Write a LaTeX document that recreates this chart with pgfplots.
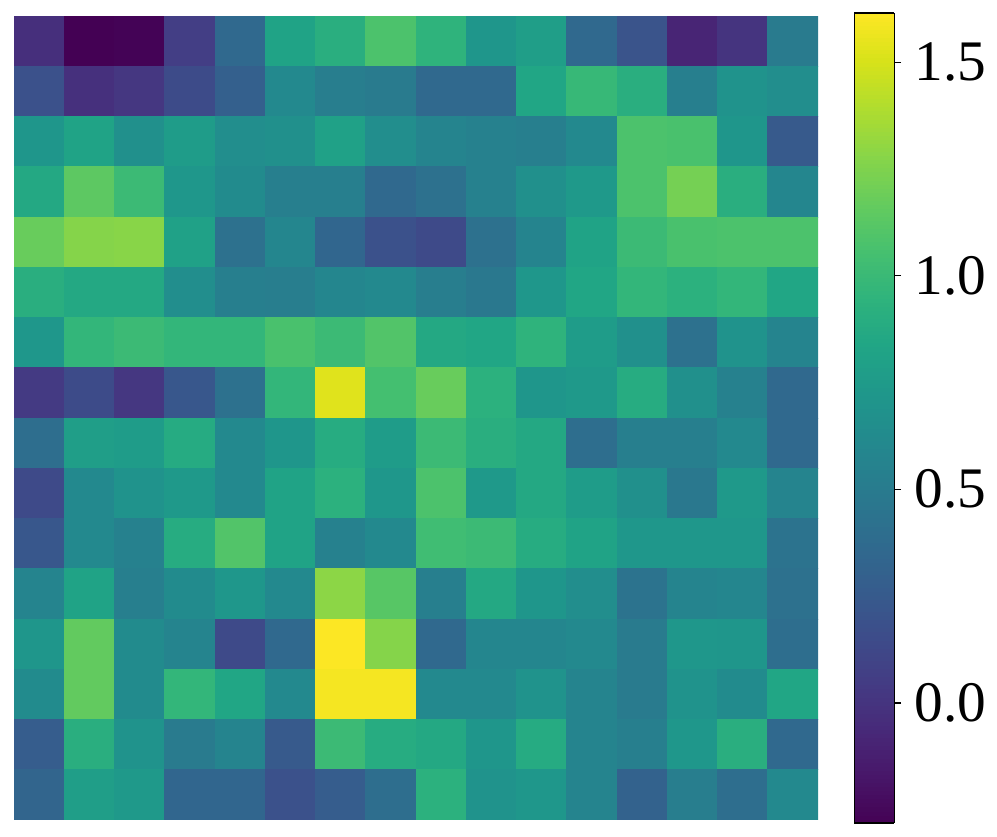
\documentclass[border=0pt]{standalone}
\usepackage{fontspec}
\setmainfont{Liberation Serif}
\usepackage{pgfplots}
\pgfplotsset{compat=1.18}

\begin{document}
\begin{tikzpicture}
\begin{axis}[
  name=main,
  scale only axis, width=603pt, height=603pt,
  xmin=-0.5, xmax=15.5, ymin=-0.5, ymax=15.5,
  y dir=reverse,
  hide axis,
  colormap/viridis,
  point meta min=-0.281, point meta max=1.615,
  colorbar sampled,
  colorbar style={
    samples=200,
    at={(parent axis.north east)}, anchor=north west,
    xshift=18.75pt, yshift=2.25pt,
    scale only axis, width=30pt, height=607.5pt,
    ytick={0,0.5,1,1.5}, ytick pos=right,
    yticklabel style={font=\fontsize{43}{43}\selectfont, inner sep=0pt, xshift=10pt,
      /pgf/number format/.cd, fixed, fixed zerofill, precision=1, assume math mode=true},
    tick align=outside, major tick length=5pt,
    tick style={black, line width=0.9pt},
    axis line style={black, line width=1pt},
  },
]
\addplot[matrix plot*, mesh/cols=16, mesh/ordering=x varies, point meta=explicit] coordinates {
(0,0)[-0.03] (1,0)[-0.28] (2,0)[-0.27] (3,0)[0.06] (4,0)[0.36] (5,0)[0.82] (6,0)[0.91] (7,0)[1.08] (8,0)[0.95] (9,0)[0.71] (10,0)[0.78] (11,0)[0.36] (12,0)[0.21] (13,0)[-0.09] (14,0)[0.00] (15,0)[0.50]

(0,1)[0.19] (1,1)[-0.02] (2,1)[0.02] (3,1)[0.15] (4,1)[0.29] (5,1)[0.61] (6,1)[0.52] (7,1)[0.50] (8,1)[0.36] (9,1)[0.36] (10,1)[0.84] (11,1)[0.99] (12,1)[0.91] (13,1)[0.53] (14,1)[0.69] (15,1)[0.65]

(0,2)[0.71] (1,2)[0.82] (2,2)[0.67] (3,2)[0.76] (4,2)[0.65] (5,2)[0.67] (6,2)[0.80] (7,2)[0.65] (8,2)[0.57] (9,2)[0.55] (10,2)[0.53] (11,2)[0.61] (12,2)[1.08] (13,2)[1.07] (14,2)[0.71] (15,2)[0.25]

(0,3)[0.86] (1,3)[1.14] (2,3)[1.01] (3,3)[0.72] (4,3)[0.63] (5,3)[0.53] (6,3)[0.53] (7,3)[0.36] (8,3)[0.42] (9,3)[0.55] (10,3)[0.67] (11,3)[0.74] (12,3)[1.08] (13,3)[1.22] (14,3)[0.91] (15,3)[0.59]

(0,4)[1.18] (1,4)[1.27] (2,4)[1.28] (3,4)[0.80] (4,4)[0.42] (5,4)[0.59] (6,4)[0.34] (7,4)[0.19] (8,4)[0.14] (9,4)[0.42] (10,4)[0.57] (11,4)[0.82] (12,4)[1.01] (13,4)[1.07] (14,4)[1.08] (15,4)[1.08]

(0,5)[0.91] (1,5)[0.86] (2,5)[0.86] (3,5)[0.65] (4,5)[0.53] (5,5)[0.52] (6,5)[0.59] (7,5)[0.61] (8,5)[0.52] (9,5)[0.48] (10,5)[0.72] (11,5)[0.84] (12,5)[0.97] (13,5)[0.93] (14,5)[0.97] (15,5)[0.84]

(0,6)[0.72] (1,6)[0.97] (2,6)[1.01] (3,6)[0.97] (4,6)[0.97] (5,6)[1.07] (6,6)[1.01] (7,6)[1.10] (8,6)[0.86] (9,6)[0.84] (10,6)[0.95] (11,6)[0.76] (12,6)[0.67] (13,6)[0.42] (14,6)[0.69] (15,6)[0.57]

(0,7)[0.04] (1,7)[0.15] (2,7)[0.02] (3,7)[0.23] (4,7)[0.42] (5,7)[0.97] (6,7)[1.53] (7,7)[1.05] (8,7)[1.18] (9,7)[0.93] (10,7)[0.71] (11,7)[0.74] (12,7)[0.89] (13,7)[0.67] (14,7)[0.55] (15,7)[0.36]

(0,8)[0.40] (1,8)[0.78] (2,8)[0.76] (3,8)[0.88] (4,8)[0.61] (5,8)[0.71] (6,8)[0.89] (7,8)[0.76] (8,8)[1.01] (9,8)[0.91] (10,8)[0.86] (11,8)[0.40] (12,8)[0.53] (13,8)[0.53] (14,8)[0.61] (15,8)[0.36]

(0,9)[0.14] (1,9)[0.61] (2,9)[0.69] (3,9)[0.74] (4,9)[0.61] (5,9)[0.82] (6,9)[0.93] (7,9)[0.72] (8,9)[1.08] (9,9)[0.74] (10,9)[0.86] (11,9)[0.76] (12,9)[0.67] (13,9)[0.48] (14,9)[0.74] (15,9)[0.57]

(0,10)[0.23] (1,10)[0.61] (2,10)[0.55] (3,10)[0.89] (4,10)[1.10] (5,10)[0.82] (6,10)[0.55] (7,10)[0.61] (8,10)[1.03] (9,10)[1.01] (10,10)[0.89] (11,10)[0.82] (12,10)[0.72] (13,10)[0.72] (14,10)[0.72] (15,10)[0.44]

(0,11)[0.57] (1,11)[0.82] (2,11)[0.53] (3,11)[0.63] (4,11)[0.72] (5,11)[0.61] (6,11)[1.29] (7,11)[1.12] (8,11)[0.53] (9,11)[0.86] (10,11)[0.71] (11,11)[0.65] (12,11)[0.44] (13,11)[0.57] (14,11)[0.59] (15,11)[0.42]

(0,12)[0.71] (1,12)[1.16] (2,12)[0.63] (3,12)[0.57] (4,12)[0.14] (5,12)[0.36] (6,12)[1.61] (7,12)[1.27] (8,12)[0.36] (9,12)[0.59] (10,12)[0.59] (11,12)[0.61] (12,12)[0.50] (13,12)[0.72] (14,12)[0.71] (15,12)[0.40]

(0,13)[0.63] (1,13)[1.16] (2,13)[0.63] (3,13)[0.97] (4,13)[0.84] (5,13)[0.61] (6,13)[1.59] (7,13)[1.59] (8,13)[0.61] (9,13)[0.61] (10,13)[0.69] (11,13)[0.57] (12,13)[0.50] (13,13)[0.69] (14,13)[0.63] (15,13)[0.84]

(0,14)[0.27] (1,14)[0.91] (2,14)[0.69] (3,14)[0.50] (4,14)[0.57] (5,14)[0.25] (6,14)[1.01] (7,14)[0.89] (8,14)[0.86] (9,14)[0.71] (10,14)[0.88] (11,14)[0.57] (12,14)[0.53] (13,14)[0.72] (14,14)[0.91] (15,14)[0.36]

(0,15)[0.33] (1,15)[0.78] (2,15)[0.74] (3,15)[0.34] (4,15)[0.34] (5,15)[0.19] (6,15)[0.27] (7,15)[0.40] (8,15)[0.93] (9,15)[0.69] (10,15)[0.72] (11,15)[0.57] (12,15)[0.31] (13,15)[0.52] (14,15)[0.40] (15,15)[0.61]
};
\end{axis}
\path (main.south west) ++(-10.5pt,-12.75pt) rectangle ++(747.75pt,627.75pt);
\end{tikzpicture}
\end{document}
